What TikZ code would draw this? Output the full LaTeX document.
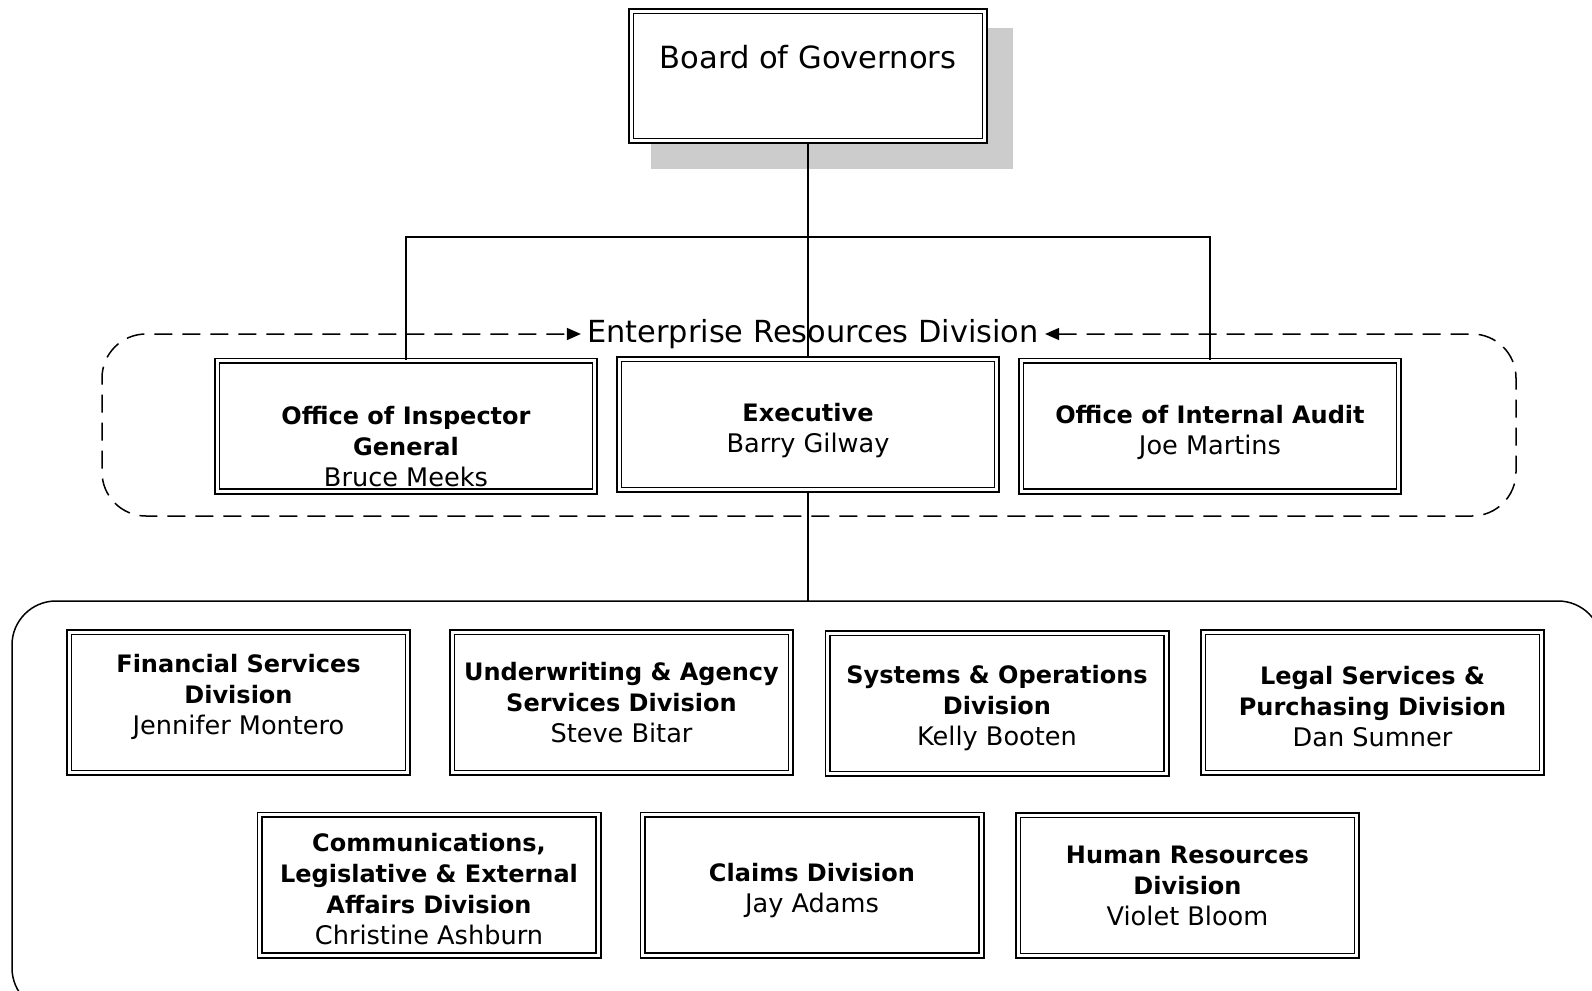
\documentclass[tikz,border=0pt]{standalone}
\usepackage{fontspec}
\setmainfont{DejaVu Sans}
\usetikzlibrary{arrows.meta}

% 人名一行略大
\newcommand\who[1]{\fontsize{12.8}{15.5}\selectfont #1}
% 首行加高, 文字在框内下移
\newcommand\lowby[1]{\rule{0pt}{\dimexpr 0.76em+#1\relax}}

\begin{document}
\begin{tikzpicture}[
        % 像素坐标: 1 单位 = 0.5pt, y 轴向下
        x={(0.5pt,0pt)},
        y={(0pt,-0.5pt)},
        unit/.style={draw, double, double distance=1.4pt, line width=0.9pt, fill=white, align=center, inner sep=0pt, font=\fontsize{12}{15.5}\selectfont},
        topunit/.style={unit, minimum width=188.8pt, minimum height=65.3pt},
        subunit/.style={unit, minimum width=169.3pt, minimum height=70.3pt},
        board/.style={unit, minimum width=176.8pt, minimum height=64.8pt, font=\fontsize{15.3}{19}\selectfont},
        % 末行加深, 文字在框内上移
        texthigh/.style={execute at end node={\rule[-\dimexpr 0.24em+#1\relax]{0pt}{0pt}}},
        conn/.style={line width=0.75pt},
        % 虚线圆角框, 两端箭头指向标题
        erd/.style={dash pattern=on 9pt off 5pt, line width=0.75pt, rounded corners=22pt,
            {Triangle[length=7pt,width=6pt]}-{Triangle[length=7pt,width=6pt]}},
        group/.style={line width=0.75pt, rounded corners=22pt}
    ]

        % --- 画布范围 ---
        \useasboundingbox (0,0) rectangle (1592,991);
        \clip (0,0) rectangle (1592,991);

        % --- 1. 顶层 (带阴影) ---
        \fill[black!20] (651,28) rectangle (1013,169);
        \node[board] (bog) at (808,76) {\lowby{6pt}Board of Governors\\\strut};

        % --- 2. 第二层 (Enterprise Resources Division) ---
        \node[topunit] (oig) at (406,426) {\lowby{20.3pt}\textbf{Office of Inspector}\\\textbf{General}\\\who{Bruce Meeks}};
        \node[topunit] (exec) at (808,424.5) {\lowby{6pt}\textbf{Executive}\\\who{Barry Gilway}};
        \node[topunit] (oia) at (1210,426) {\lowby{6pt}\textbf{Office of Internal Audit}\\\who{Joe Martins}};

        \node[font=\fontsize{15.2}{18}\selectfont, inner xsep=3pt, inner ysep=0pt] (erdlabel) at (813,334) {Enterprise Resources Division};
        \draw[erd] (erdlabel.east) -- (1516,334) -- (1516,516) -- (102,516) -- (102,334) -- (erdlabel.west);

        % --- 3. 连线 ---
        \coordinate (bar) at (808,237);
        \coordinate (grouptop) at (808,601);
        \draw[conn] (bog.south) -- (exec.north);
        \draw[conn] (oig.north) |- (bar) -| (oia.north);
        \draw[conn] (exec.south) -- (grouptop);

        % --- 4. 下属部门 (实线圆角框) ---
        \draw[group] (12,601) rectangle (1602,1012);

        \node[subunit, texthigh=5pt] (fsd) at (238.5,702.5) {\textbf{Financial Services}\\\textbf{Division}\\\who{Jennifer Montero}};
        \node[subunit] (uasd) at (621.5,702.5) {\textbf{Underwriting \& Agency}\\\textbf{Services Division}\\\who{Steve Bitar}};
        \node[subunit] (sod) at (997,703.5) {\lowby{5pt}\textbf{Systems \& Operations}\\\textbf{Division}\\\who{Kelly Booten}};
        \node[subunit] (lspd) at (1372.5,702.5) {\lowby{4pt}\textbf{Legal Services \&}\\\textbf{Purchasing Division}\\\who{Dan Sumner}};

        \node[subunit] (clead) at (429,885) {\lowby{4pt}\textbf{Communications,}\\\textbf{Legislative \& External}\\\textbf{Affairs Division}\\\who{Christine Ashburn}};
        \node[subunit] (cd) at (812,885) {\lowby{6pt}\textbf{Claims Division}\\\who{Jay Adams}};
        \node[subunit] (hrd) at (1187.5,885.5) {\textbf{Human Resources}\\\textbf{Division}\\\who{Violet Bloom}};

    \end{tikzpicture}
\end{document}
